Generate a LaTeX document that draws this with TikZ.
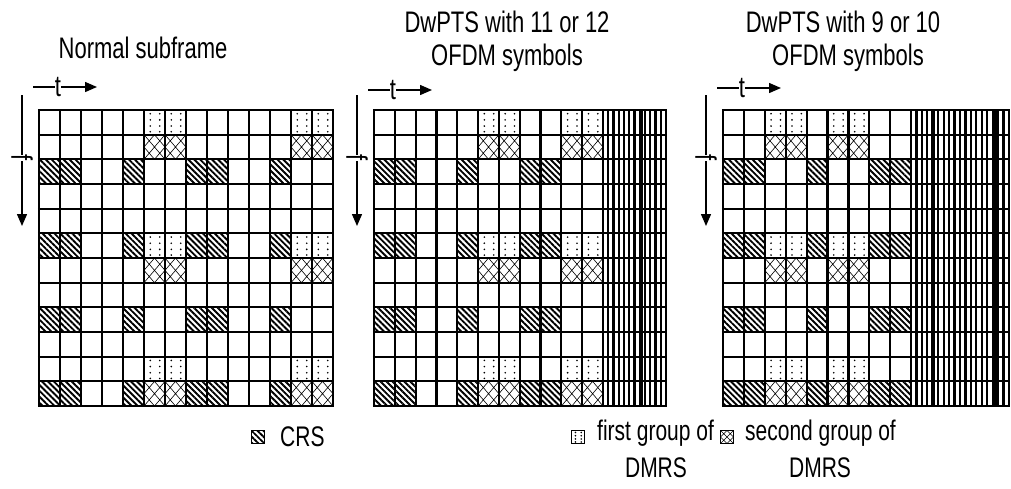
\documentclass[tikz,border=0pt]{standalone}
\usepackage{fontspec}
\usepackage{graphicx}
\setmainfont{Liberation Sans}
\usetikzlibrary{patterns.meta,arrows.meta}
\newcommand\crscell[2]{\fill[pattern={Lines[angle=-45,distance=4.2pt,line width=1.9pt]}] ({\X+#1*\W},{\Y+#2*\H}) rectangle ++(\W,\H);}
\newcommand\dotcell[2]{\foreach \dx/\dy in {0.3/0.15,0.75/0.15,0.3/0.4,0.75/0.4,0.3/0.65,0.75/0.65,0.3/0.88,0.75/0.88}{\fill ({\X+(#1+\dx)*\W},{\Y+(#2+\dy)*\H}) circle (0.9);}}
\newcommand\crosscell[2]{\draw[line width=0.6pt] ({\X+#1*\W},{\Y+#2*\H}) -- ++(\W,\H) ({\X+(#1+1)*\W},{\Y+#2*\H}) -- ++(-\W,\H) ({\X+(#1+0.5)*\W},{\Y+#2*\H}) -- ++(0.5*\W,0.5*\H) -- ++(-0.5*\W,0.5*\H) -- ++(-0.5*\W,-0.5*\H) -- cycle;}
\newcommand\gridlines[4]{% ncols, stripe start, stripe end, number of stripes
  \foreach \i in {0,...,#1}{\draw[gridline] ({\X+\i*\W},\Y) -- ({\X+\i*\W},{\Y+12*\H});}
  \foreach \j in {0,...,12}{\draw[gridline] ({\X-1.1},{\Y+\j*\H}) -- ({#3+1.1},{\Y+\j*\H});}
  \foreach \s in {1,...,#4}{\draw[line width=2.3pt] ({#2+(#3-#2)*\s/(#4+1)},\Y) -- ({#2+(#3-#2)*\s/(#4+1)},{\Y+12*\H});}
  \draw[gridline] (#3,\Y) -- (#3,{\Y+12*\H});
}
\newcommand\tall[1]{\scalebox{1}[1.35]{#1}}
\begin{document}
\begin{tikzpicture}[x=1pt,y=-1pt,
  gridline/.style={line width=2.2pt},
  lbl/.style={font=\fontsize{22}{24}\selectfont, inner sep=0pt},
  leglbl/.style={font=\fontsize{21}{24}\selectfont, inner sep=0pt},
  ax/.style={line width=1.4pt},
  axarr/.style={line width=1.4pt,-{Triangle[length=12pt,width=10pt]}},
  legbox/.style={draw, line width=0.8pt, minimum size=13pt, inner sep=0pt},
]
\useasboundingbox (0,0) rectangle (1011,488);
\def\H{24.67}
% ---------- grid 1
\def\X{39}\def\Y{110}\def\W{21}
\foreach \r in {2,5,8,11}{\foreach \c in {0,1,4,7,8,11}{\crscell{\c}{\r}}}
\foreach \r in {0,5,10}{\foreach \c in {5,6,12,13}{\dotcell{\c}{\r}}}
\foreach \r in {1,6,11}{\foreach \c in {5,6,12,13}{\crosscell{\c}{\r}}}
\foreach \i in {0,...,14}{\draw[gridline] ({\X+\i*\W},\Y) -- ({\X+\i*\W},{\Y+12*\H});}
\foreach \j in {0,...,12}{\draw[gridline] ({\X-1.1},{\Y+\j*\H}) -- ({\X+14*\W+1.1},{\Y+\j*\H});}
% ---------- grid 2
\def\X{374}\def\Y{110}\def\W{20.82}
\foreach \r in {2,5,8,11}{\foreach \c in {0,1,4,7,8}{\crscell{\c}{\r}}}
\foreach \r in {0,5,10}{\foreach \c in {5,6,9,10}{\dotcell{\c}{\r}}}
\foreach \r in {1,6,11}{\foreach \c in {5,6,9,10}{\crosscell{\c}{\r}}}
\gridlines{11}{603}{666}{11}
\draw[line width=4.5pt] (641,\Y) -- (641,{\Y+12*\H});
% ---------- grid 3
\def\X{723}\def\Y{110}\def\W{20.9}
\foreach \r in {2,5,8,11}{\foreach \c in {0,1,4,7,8}{\crscell{\c}{\r}}}
\foreach \r in {0,5,10}{\foreach \c in {2,3,5,6}{\dotcell{\c}{\r}}}
\foreach \r in {1,6,11}{\foreach \c in {2,3,5,6}{\crosscell{\c}{\r}}}
\gridlines{9}{911}{1009}{17}
\draw[line width=4.5pt] (933,\Y) -- (933,{\Y+12*\H});
\draw[line width=4.5pt] (995,\Y) -- (995,{\Y+12*\H});
% ---------- titles
\node[lbl] (title1) at (143,48) {\tall{Normal subframe}};
\node[lbl] (title2a) at (507,22) {\tall{DwPTS with 11 or 12}};
\node[lbl] (title2b) at (507,58) {\tall{OFDM symbols}};
\node[lbl] (title3a) at (843,22) {\tall{DwPTS with 9 or 10}};
\node[lbl] (title3b) at (848,58) {\tall{OFDM symbols}};
% ---------- axes
\foreach \g/\fx/\ty in {1/22/87, 2/357/90, 3/706/88}{
  \coordinate (fs\g) at (\fx,95);
  \node[lbl, rotate=-90] (f\g) at (\fx,158) {\tall{f}};
  \coordinate (fe\g) at (\fx,226);
  \draw[ax] (fs\g) -- (f\g);
  \draw[axarr] (f\g) -- (fe\g);
  \coordinate (ts\g) at ({\fx+11},\ty);
  \node[lbl] (t\g) at ({\fx+36},\ty) {\tall{t}};
  \coordinate (te\g) at ({\fx+75},\ty);
  \draw[ax] (ts\g) -- (t\g);
  \draw[axarr] (t\g) -- (te\g);
}
% ---------- legend
\def\W{13}\def\H{13}\def\Y{430.5}
\def\X{251.5}\crscell{0}{0}
\node[legbox] (leg1) at (258,437) {};
\node[leglbl, anchor=west] (legt1) at (280,437) {\tall{CRS}};
\def\X{571.5}\dotcell{0}{0}
\node[legbox] (leg2) at (578,437) {};
\node[leglbl, anchor=west] (legt2) at (597,433) {\tall{first group of}};
\node[leglbl] (legt2b) at (656,468) {\tall{DMRS}};
\def\X{720.5}\crosscell{0}{0}
\node[legbox] (leg3) at (727,437) {};
\node[leglbl, anchor=west] (legt3) at (745,433) {\tall{second group of}};
\node[leglbl] (legt3b) at (820,468) {\tall{DMRS}};
\end{tikzpicture}
\end{document}
